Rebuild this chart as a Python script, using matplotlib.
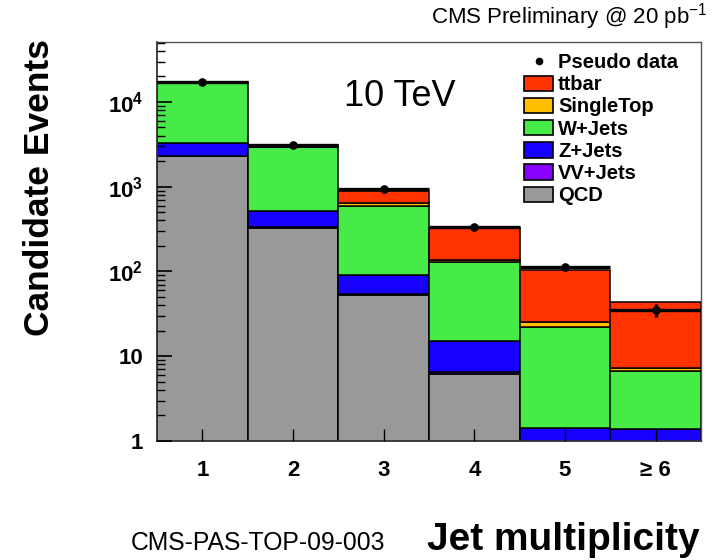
import numpy as np
import matplotlib
matplotlib.use("Agg")
import matplotlib.pyplot as plt
from matplotlib.ticker import FixedLocator, FuncFormatter, LogLocator, NullFormatter
from matplotlib.patches import Patch
from matplotlib.lines import Line2D

plt.rcParams['font.family'] = ['Liberation Sans', 'DejaVu Sans']
plt.rcParams['mathtext.fontset'] = 'custom'
plt.rcParams['mathtext.rm'] = 'Liberation Sans'
plt.rcParams['mathtext.bf'] = 'Liberation Sans:bold'
plt.rcParams['mathtext.it'] = 'Liberation Sans:italic'

# Jet multiplicity bins
bins = [1, 2, 3, 4, 5, 6]
bin_labels = ["1", "2", "3", "4", "5", "\u2265 6"]

# Expected events per process (20 pb^-1, 10 TeV)
qcd = [2300, 328, 52.6, 6.15, 0.0, 0.0]
vv_jets = [8.0, 3.0, 1.0, 0.3, 0.05, 0.03]
z_jets = [992, 190, 38.4, 8.65, 1.37, 1.34]
w_jets = [13850, 2400, 508, 113, 20.8, 5.3]
single_top = [70, 45, 37, 9.0, 3.1, 0.5]
ttbar = [120, 100, 248, 193, 78.7, 36.7]

# Pseudo data
pseudo_data = [17400, 3100, 930, 338, 113, 35]

processes = [
    ("QCD", qcd, "#999999"),
    ("VV+Jets", vv_jets, "#8800ff"),
    ("Z+Jets", z_jets, "#1800ff"),
    ("W+Jets", w_jets, "#47eb47"),
    ("SingleTop", single_top, "#ffbf00"),
    ("ttbar", ttbar, "#ff3300"),
]

W, H = 713, 560
fig = plt.figure(figsize=(W / 100, H / 100), dpi=100)
ax = fig.add_axes([157 / W, 1 - 441 / H, (701 - 157) / W, (441 - 42) / H])

x = np.array(bins, dtype=float)
bottom = np.zeros(len(bins))
for name, vals, col in processes:
    v = np.array(vals, dtype=float)
    mask = v > 0
    ax.bar(x[mask], v[mask], width=1.0, bottom=bottom[mask], color=col,
           edgecolor="black", linewidth=1.1, zorder=2)
    bottom = bottom + v

data = np.array(pseudo_data, dtype=float)
ax.errorbar(x, data, xerr=0.5, yerr=np.sqrt(data), fmt="o", color="black",
            ms=5.2, elinewidth=2.4, capsize=0, zorder=5)

ax.set_yscale("log")
ax.set_xlim(0.5, 6.5)
ax.set_ylim(1, 51000)

ax.xaxis.set_major_locator(FixedLocator(bins))
ax.set_xticklabels(bin_labels, fontsize=16, fontweight="bold")
ax.tick_params(axis="x", direction="in", length=9, width=1.0, pad=14,
               top=False)

ax.yaxis.set_major_locator(LogLocator(base=10, numticks=10))
ax.yaxis.set_minor_locator(LogLocator(base=10, subs=np.arange(2, 10), numticks=20))
ax.yaxis.set_minor_formatter(NullFormatter())


def ylab(v, pos):
    e = int(round(np.log10(v)))
    if e == 0:
        return "1"
    if e == 1:
        return "10"
    return r"$\mathbf{10^{%d}}$" % e


ax.yaxis.set_major_formatter(FuncFormatter(ylab))
ax.tick_params(axis="y", which="major", direction="in", length=11, width=1.2,
               pad=10, labelsize=16, right=False)
ax.tick_params(axis="y", which="minor", direction="in", length=6, width=1.0,
               right=False)
for lab in ax.get_yticklabels():
    lab.set_fontweight("bold")

for side in ["top", "right"]:
    ax.spines[side].set_color("#555555")
    ax.spines[side].set_linewidth(1.0)
for side in ["left", "bottom"]:
    ax.spines[side].set_color("#333333")
    ax.spines[side].set_linewidth(1.3)
ax.set_axisbelow(False)

# Legend
handles = [Line2D([], [], marker="o", color="black", ls="none", ms=4.5)]
labels = ["Pseudo data"]
for name, vals, col in reversed(processes):
    handles.append(Patch(facecolor=col, edgecolor="black", linewidth=1.2))
    labels.append(name)
leg = ax.legend(handles, labels, loc="upper left",
                bbox_to_anchor=(524 / W, 1 - 53 / H), bbox_transform=fig.transFigure,
                frameon=False, prop={"size": 14.5, "weight": "bold"},
                handlelength=1.45, handleheight=0.8,
                handletextpad=0.25, labelspacing=0.16, borderpad=0, borderaxespad=0)

ax.text(400 / W, 1 - 97 / H, "10 TeV", transform=fig.transFigure,
        fontsize=26, ha="center", va="center")

fig.text(708 / W, 1 - 17 / H, r"CMS Preliminary @ 20 pb$^{-1}$",
         fontsize=16, ha="right", va="center")
fig.text(40 / W, 1 - 188 / H, "Candidate Events", rotation=90,
         fontsize=25.5, fontweight="bold", ha="center", va="center")
fig.text(700 / W, 1 - 540 / H, "Jet multiplicity", fontsize=28,
         fontweight="bold", ha="right", va="center")
fig.text(258 / W, 1 - 543 / H, "CMS-PAS-TOP-09-003", fontsize=17.8,
         ha="center", va="center")

fig.savefig("out.png", dpi=100)
